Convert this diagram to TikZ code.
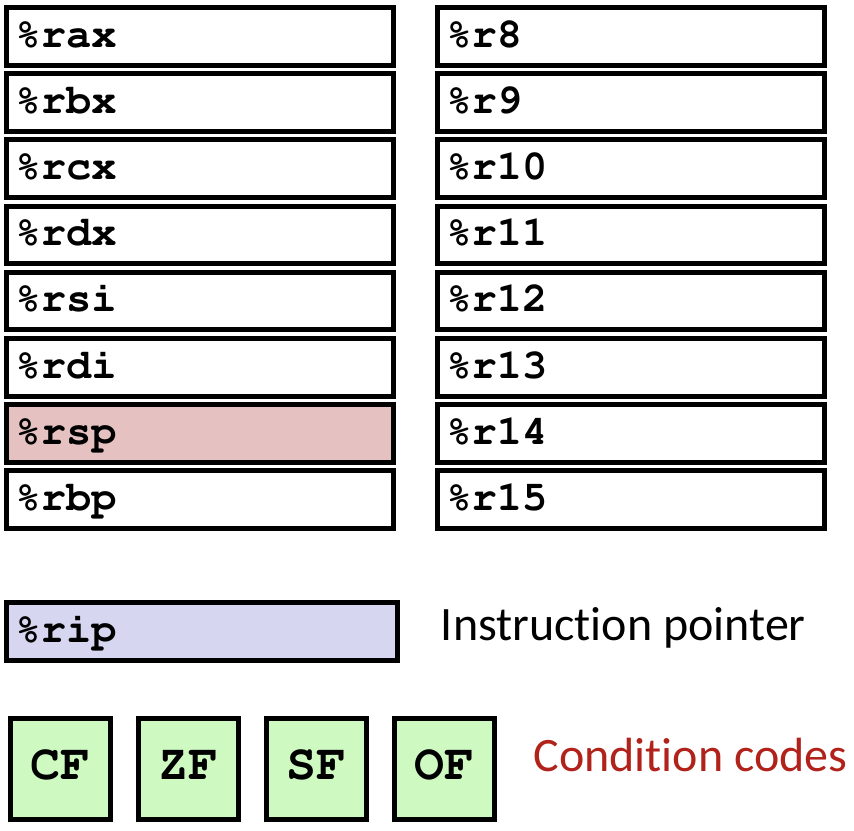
\documentclass[tikz,border=0pt]{standalone}
\usepackage[T1]{fontenc}
\usepackage{fontspec}
\newfontfamily\labelfont[RawFeature={-liga;-dlig;-calt}]{Carlito}
\newcommand\courb{\fontencoding{T1}\fontfamily{pcr}\fontseries{b}\selectfont}
\newcommand\nolig{\kern0pt\relax}
\definecolor{rspfill}{RGB}{230,193,193}
\definecolor{ripfill}{RGB}{214,214,240}
\definecolor{flagfill}{RGB}{206,250,194}
\definecolor{ccred}{RGB}{176,34,26}
\tikzset{
  regbox/.style={draw=black, line width=5pt, rectangle, inner sep=0pt, outer sep=0pt,
    minimum width=387pt, minimum height=57.5pt, anchor=north west},
  regtext/.style={anchor=base west, inner sep=0pt, font=\fontsize{42}{42}\courb},
  flagbox/.style={draw=black, line width=5pt, rectangle, inner sep=0pt, outer sep=0pt,
    fill=flagfill, minimum width=100pt, minimum height=101.3pt, anchor=north west},
  flagtext/.style={anchor=base, inner sep=0pt, font=\fontsize{50}{50}\courb},
  desc/.style={anchor=base west, inner sep=0pt, font=\fontsize{48}{48}\labelfont}
}
\begin{document}
\begin{tikzpicture}[x=1pt,y=-1pt]
\useasboundingbox (0,0) rectangle (854,830);
% left column
\foreach \n [count=\k from 0] in {rax,rbx,rcx,rdx,rsi,rdi,rsp,rbp}{
  \pgfmathsetmacro\ytop{7.5+66.2*\k}
  \ifnum\k=6
    \node[regbox, fill=rspfill] (\n) at (6.5,\ytop) {};
  \else
    \node[regbox, fill=white] (\n) at (6.5,\ytop) {};
  \fi
  \node[regtext] (\n-t) at ([xshift=9pt,yshift=-10.75pt]\n.west) {\%\n};
}
% right column
\foreach \n [count=\k from 0] in {8,9,10,11,12,13,14,15}{
  \pgfmathsetmacro\ytop{7.5+66.2*\k}
  \node[regbox, fill=white, minimum width=386.7pt] (r\n) at (437.3,\ytop) {};
  \node[regtext] (r\n-t) at ([xshift=9pt,yshift=-10.75pt]r\n.west) {\%r\n};
}
% instruction pointer
\node[regbox, fill=ripfill, minimum width=391pt] (rip) at (6.5,602.5) {};
\node[regtext] (rip-t) at ([xshift=9pt,yshift=-10.75pt]rip.west) {\%rip};
\node[desc] (iplabel) at (440.7,640.7) {Instruct\nolig ion pointer};
% condition codes
\node[flagbox] (cf) at (10.5,718) {};
\node[flagbox] (zf) at (138.6,718) {};
\node[flagbox] (sf) at (266.6,718) {};
\node[flagbox] (of) at (394.8,718) {};
\foreach \f/\t in {cf/CF,zf/ZF,sf/SF,of/OF}{
  \node[flagtext] (\f-t) at ([yshift=-11.3pt]\f.center) {\t};
}
\node[desc, text=ccred] (cclabel) at (533.3,771) {Condit\nolig ion codes};
\end{tikzpicture}
\end{document}
